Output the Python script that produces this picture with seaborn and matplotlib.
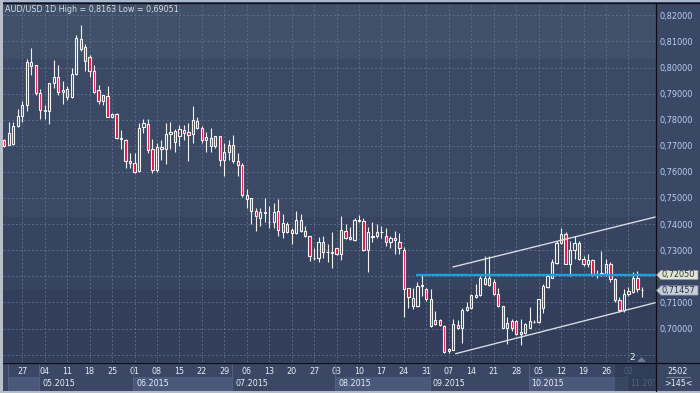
import numpy as np
import pandas as pd
import matplotlib
matplotlib.use("Agg")
import matplotlib.pyplot as plt
import matplotlib.transforms as mtransforms
from matplotlib.patches import Rectangle, Polygon
import seaborn as sns

# ---------------- data (AUD/USD daily) ----------------
opens = [0.7722, 0.7704, 0.7707, 0.7776, 0.7816, 0.7855, 0.8021, 0.8008, 0.7901, 0.7832,
         0.7832, 0.7939, 0.7965, 0.7906, 0.7916, 0.7888, 0.7975, 0.8110, 0.8080, 0.8039,
         0.7985, 0.7914, 0.7873, 0.7891, 0.7811, 0.7822, 0.7727, 0.7724, 0.7643, 0.7635,
         0.7602, 0.7773, 0.7782, 0.7686, 0.7609, 0.7696, 0.7689, 0.7745, 0.7758, 0.7737,
         0.7760, 0.7752, 0.7744, 0.7795, 0.7769, 0.7722, 0.7730, 0.7699, 0.7737, 0.7645,
         0.7676, 0.7704, 0.7643, 0.7627, 0.7512, 0.7499, 0.7450, 0.7425, 0.7442, 0.7407,
         0.7407, 0.7450, 0.7404, 0.7402, 0.7376, 0.7366, 0.7417, 0.7373, 0.7353, 0.7269,
         0.7269, 0.7330, 0.7292, 0.7290, 0.7307, 0.7284, 0.7373, 0.7343, 0.7340, 0.7410,
         0.7410, 0.7299, 0.7350, 0.7356, 0.7368, 0.7353, 0.7330, 0.7345, 0.7333, 0.7302,
         0.7156, 0.7087, 0.7087, 0.7164, 0.7153, 0.7112, 0.7016, 0.7031, 0.7010, 0.6914,
         0.6918, 0.7013, 0.7001, 0.7072, 0.7080, 0.7122, 0.7128, 0.7192, 0.7167, 0.7179,
         0.7131, 0.7085, 0.7003, 0.7029, 0.7027, 0.6978, 0.6984, 0.7003, 0.7024, 0.7024,
         0.7080, 0.7159, 0.7195, 0.7252, 0.7328, 0.7363, 0.7248, 0.7299, 0.7329, 0.7265,
         0.7246, 0.7261, 0.7208, 0.7208, 0.7208, 0.7248, 0.7188, 0.7108, 0.7070, 0.7133,
         0.7141, 0.7192, 0.7149]
highs = [0.7725, 0.7791, 0.7791, 0.7841, 0.7873, 0.8031, 0.8074, 0.8011, 0.7916, 0.7857,
         0.7939, 0.8030, 0.8008, 0.7949, 0.7931, 0.7998, 0.8126, 0.8163, 0.8090, 0.8046,
         0.8011, 0.7934, 0.7896, 0.7931, 0.7824, 0.7824, 0.7761, 0.7727, 0.7673, 0.7671,
         0.7788, 0.7801, 0.7801, 0.7727, 0.7709, 0.7724, 0.7786, 0.7791, 0.7763, 0.7778,
         0.7781, 0.7788, 0.7851, 0.7810, 0.7775, 0.7752, 0.7768, 0.7737, 0.7737, 0.7712,
         0.7724, 0.7740, 0.7673, 0.7635, 0.7533, 0.7501, 0.7460, 0.7463, 0.7499, 0.7468,
         0.7481, 0.7496, 0.7437, 0.7407, 0.7384, 0.7450, 0.7437, 0.7391, 0.7356, 0.7307,
         0.7350, 0.7356, 0.7325, 0.7368, 0.7310, 0.7430, 0.7399, 0.7389, 0.7422, 0.7433,
         0.7422, 0.7389, 0.7409, 0.7399, 0.7391, 0.7386, 0.7356, 0.7373, 0.7366, 0.7312,
         0.7156, 0.7156, 0.7179, 0.7207, 0.7156, 0.7153, 0.7067, 0.7036, 0.7013, 0.6927,
         0.7038, 0.7031, 0.7080, 0.7102, 0.7131, 0.7172, 0.7201, 0.7276, 0.7276, 0.7188,
         0.7156, 0.7087, 0.7044, 0.7035, 0.7031, 0.7035, 0.7022, 0.7082, 0.7031, 0.7112,
         0.7169, 0.7208, 0.7265, 0.7335, 0.7384, 0.7371, 0.7335, 0.7354, 0.7335, 0.7278,
         0.7284, 0.7265, 0.7225, 0.7297, 0.7265, 0.7256, 0.7195, 0.7120, 0.7150, 0.7160,
         0.7215, 0.7222, 0.7160]
lows = [0.7696, 0.7702, 0.7704, 0.7773, 0.7791, 0.7832, 0.7972, 0.7895, 0.7801, 0.7804,
        0.7783, 0.7921, 0.7896, 0.7860, 0.7875, 0.7885, 0.7972, 0.8064, 0.7988, 0.7962,
        0.7903, 0.7860, 0.7857, 0.7809, 0.7806, 0.7727, 0.7687, 0.7616, 0.7616, 0.7594,
        0.7599, 0.7750, 0.7673, 0.7594, 0.7599, 0.7645, 0.7632, 0.7689, 0.7676, 0.7701,
        0.7724, 0.7641, 0.7709, 0.7765, 0.7712, 0.7676, 0.7676, 0.7692, 0.7622, 0.7584,
        0.7645, 0.7635, 0.7586, 0.7505, 0.7461, 0.7399, 0.7373, 0.7391, 0.7407, 0.7386,
        0.7386, 0.7356, 0.7348, 0.7366, 0.7325, 0.7363, 0.7371, 0.7350, 0.7258, 0.7261,
        0.7256, 0.7269, 0.7253, 0.7233, 0.7281, 0.7264, 0.7343, 0.7338, 0.7335, 0.7407,
        0.7297, 0.7215, 0.7333, 0.7348, 0.7345, 0.7317, 0.7310, 0.7284, 0.7284, 0.7044,
        0.7080, 0.7075, 0.7081, 0.7126, 0.7106, 0.7007, 0.7013, 0.7010, 0.6907, 0.6905,
        0.6916, 0.6998, 0.6946, 0.7067, 0.7073, 0.7118, 0.7125, 0.7167, 0.7163, 0.7128,
        0.7082, 0.7001, 0.6939, 0.6990, 0.6975, 0.6936, 0.6980, 0.7001, 0.7021, 0.7021,
        0.7061, 0.7156, 0.7192, 0.7246, 0.7322, 0.7246, 0.7200, 0.7265, 0.7261, 0.7239,
        0.7236, 0.7200, 0.7195, 0.7200, 0.7200, 0.7180, 0.7100, 0.7065, 0.7065, 0.7125,
        0.7135, 0.7140, 0.7120]
closes = [0.7699, 0.7750, 0.7776, 0.7814, 0.7857, 0.8021, 0.8005, 0.7901, 0.7837, 0.7837,
          0.7939, 0.7965, 0.7906, 0.7914, 0.7888, 0.7975, 0.8113, 0.8069, 0.8026, 0.7985,
          0.7908, 0.7873, 0.7893, 0.7811, 0.7822, 0.7730, 0.7731, 0.7643, 0.7635, 0.7599,
          0.7769, 0.7786, 0.7684, 0.7609, 0.7696, 0.7689, 0.7747, 0.7752, 0.7714, 0.7763,
          0.7750, 0.7742, 0.7800, 0.7769, 0.7722, 0.7735, 0.7699, 0.7737, 0.7645, 0.7676,
          0.7704, 0.7643, 0.7627, 0.7510, 0.7497, 0.7450, 0.7430, 0.7445, 0.7445, 0.7409,
          0.7445, 0.7376, 0.7368, 0.7368, 0.7366, 0.7417, 0.7373, 0.7353, 0.7279, 0.7271,
          0.7333, 0.7292, 0.7294, 0.7294, 0.7284, 0.7376, 0.7348, 0.7350, 0.7414, 0.7414,
          0.7299, 0.7371, 0.7353, 0.7371, 0.7371, 0.7333, 0.7345, 0.7338, 0.7307, 0.7151,
          0.7121, 0.7115, 0.7161, 0.7166, 0.7112, 0.7010, 0.7031, 0.7013, 0.6910, 0.6923,
          0.7016, 0.7001, 0.7072, 0.7084, 0.7127, 0.7127, 0.7192, 0.7169, 0.7195, 0.7131,
          0.7085, 0.7003, 0.7022, 0.7003, 0.6978, 0.6987, 0.7016, 0.7029, 0.7026, 0.7112,
          0.7163, 0.7201, 0.7256, 0.7326, 0.7363, 0.7248, 0.7299, 0.7329, 0.7265, 0.7246,
          0.7261, 0.7208, 0.7210, 0.7214, 0.7248, 0.7188, 0.7108, 0.7070, 0.7133, 0.7144,
          0.7192, 0.7150, 0.71457]
dates = pd.bdate_range(end="2015-11-05", periods=len(closes))

price_ticks = [0.69, 0.70, 0.71, 0.72, 0.73, 0.74, 0.75, 0.76, 0.77, 0.78, 0.79, 0.80, 0.81, 0.82]
hidden_price_labels = [0.69, 0.72]

resistance_level = 0.7205
resistance_start = "2015-08-27"
channel_upper_dates = ["2015-09-08", "2015-11-10"]
channel_upper_prices = [0.72356, 0.74272]
channel_lower_dates = ["2015-09-08", "2015-11-10"]
channel_lower_prices = [0.69034, 0.70989]
channel_upper_start_offset = -0.1   # fractions of a candle step
channel_lower_start_offset = 0.5

title_text = "AUD/USD 1D High = 0,8163 Low = 0,69051"
marker_labels = ["0,72050", "0,71457"]
marker_prices = [0.7205, 0.71457]
corner_labels = ["2502", ">145<"]
bar_count_label = "2"

# ---------------- style ----------------
sns.set_theme(style="dark")
plt.rcParams['font.family'] = ['DejaVu Sans']

W, H = 700, 393
PANEL = '#3a4865'
RED = '#e3123d'
fig = plt.figure(figsize=(7, 3.93), dpi=100, facecolor=PANEL)

def fx(px):
    return px / W

def fy(py):
    return 1 - py / H

# axes from x=3..656 px, y=3..362 px
ax = fig.add_axes([fx(3), fy(362), fx(656) - fx(3), fy(3) - fy(362)])
for s in ax.spines.values():
    s.set_visible(False)

X0, DX = 4.3, 4.49          # pixel of first candle, pixels per candle
P0, PY0, PPU = 0.82, 15.3, 2610.0   # price 0.82 at pixel 15.3, pixels per unit
ax.set_xlim((3 - X0) / DX, (656 - X0) / DX)
ax.set_ylim(P0 - (362 - PY0) / PPU, P0 + (PY0 - 3) / PPU)

# background bands (axes coordinates)
bands = [(3, 59, '#415069'), (59, 217, '#3b4964'), (217, 290, '#37445f'), (290, 362, '#333f5a')]
for top, bot, col in bands:
    ax.add_patch(Rectangle((0, (362 - bot) / 359), 1, (bot - top) / 359,
                           transform=ax.transAxes, facecolor=col, edgecolor='none', zorder=0))

df = pd.DataFrame({"date": dates, "open": opens, "high": highs, "low": lows, "close": closes})
df["k"] = np.arange(len(df))
date_to_k = {d: k for d, k in zip(df["date"], df["k"])}

def k_of(datestr):
    d = pd.Timestamp(datestr)
    if d in date_to_k:
        return date_to_k[d]
    # extrapolate beyond the last bar by business days
    return len(df) - 1 + len(pd.bdate_range(df["date"].iloc[-1], d)) - 1

# grid
mondays = df[df["date"].dt.dayofweek == 0]
ax.set_xticks(mondays["k"])
ax.set_xticklabels([d.strftime("%d") for d in mondays["date"]])
ax.set_yticks(price_ticks)
ax.set_yticklabels(["" if p in hidden_price_labels else f"{p:.5f}".replace(".", ",") for p in price_ticks])
ax.grid(True, color='#5b6b8b', linestyle=(0, (2, 2.2)), linewidth=0.7, zorder=1)
ax.set_axisbelow(True)
ax.yaxis.tick_right()
ax.tick_params(axis='y', length=0, pad=2.6, labelsize=5.9, labelcolor='#b9d0f2')
ax.tick_params(axis='x', length=0, pad=3.6, labelsize=5.8, labelcolor='#e8eef7')
xl = ax.get_xticklabels()
xl[-1].set_color('#7f8da5')

# candles
o = df["open"].values; c = df["close"].values
hi = df["high"].values; lo = df["low"].values; k = df["k"].values
body_lo = np.minimum(o, c); body_hi = np.maximum(o, c)
height = np.maximum(body_hi - body_lo, 0.00018)
up = c >= o
ax.vlines(k, lo, body_lo, color='#f2f2f2', linewidth=0.8, zorder=3)
ax.vlines(k, body_lo + height, hi, color='#f2f2f2', linewidth=0.8, zorder=3)
ax.bar(k[up], height[up], bottom=body_lo[up], width=0.5, facecolor='none',
       edgecolor='#f4f4f4', linewidth=0.8, zorder=4)
ax.bar(k[~up], height[~up], bottom=body_lo[~up], width=0.5, facecolor=RED,
       edgecolor='#f4f4f4', linewidth=0.8, zorder=4)

# support/resistance & channel
xmax = ax.get_xlim()[1]
res_df = pd.DataFrame({"k": [k_of(resistance_start), xmax], "p": [resistance_level] * 2})
sns.lineplot(data=res_df, x="k", y="p", ax=ax, color='#1d9fe0', linewidth=1.7, zorder=5)
up_df = pd.DataFrame({"k": [k_of(channel_upper_dates[0]) + channel_upper_start_offset, k_of(channel_upper_dates[1])],
                      "p": channel_upper_prices})
lo_df = pd.DataFrame({"k": [k_of(channel_lower_dates[0]) + channel_lower_start_offset, k_of(channel_lower_dates[1])],
                      "p": channel_lower_prices})
for d in (up_df, lo_df):
    sns.lineplot(data=d, x="k", y="p", ax=ax, color='#dde0e6', linewidth=0.95, zorder=5)
ax.set_xlim((3 - X0) / DX, (656 - X0) / DX)
ax.set_xlabel(""); ax.set_ylabel("")

# ---------------- bottom date strip ----------------
blend = mtransforms.blended_transform_factory(ax.transData, fig.transFigure)
month_starts = df.groupby(df["date"].dt.to_period("M"))["k"].min()
month_list = list(month_starts.items())
for i, (per, k0) in enumerate(month_list):
    if i == 0:
        xs = (8 - X0) / DX
    else:
        xs = k0 - 0.25
    xe = month_list[i + 1][1] - 0.25 if i + 1 < len(month_list) else xmax
    light = (i % 2 == 0)
    ax.add_patch(Rectangle((xs, fy(390)), xe - xs, fy(376.7) - fy(390), transform=blend,
                           facecolor='#4a597b' if light else PANEL, edgecolor='#53627f' if light else 'none',
                           linewidth=0.5, clip_on=False, zorder=1))
    ax.plot([xs, xs], [fy(363), fy(390)], transform=blend, color='#56657f', lw=0.6, clip_on=False, zorder=1)
    if i > 0:
        t = ax.text(xs + 3 / DX, fy(383.2), per.strftime("%m.%Y"), transform=blend, fontsize=5.8,
                    color='#e8eef7' if i < len(month_list) - 1 else '#7f8da5', va='center', ha='left',
                    clip_on=False)
        if i == len(month_list) - 1:
            t.set_clip_box(mtransforms.TransformedBbox(
                mtransforms.Bbox([[0, 0], [fx(655), 1]]), fig.transFigure))
            t.set_clip_on(True)

# darker overlay over the current (incomplete) region of the strip
fig.add_artist(Rectangle((fx(615), fy(391)), fx(656) - fx(615), fy(363) - fy(391), transform=fig.transFigure,
                         facecolor='#243049', alpha=0.45, edgecolor='none', zorder=2))

# ---------------- price markers on the right ----------------
for lab, p, col in zip(marker_labels, marker_prices, ['#e2e4cf', '#c9cdd8']):
    ypx = PY0 + (P0 - p) * PPU
    poly = Polygon([(fx(656.5), fy(ypx)), (fx(661), fy(ypx - 4.6)), (fx(698), fy(ypx - 4.6)),
                    (fx(698), fy(ypx + 4.6)), (fx(661), fy(ypx + 4.6))], closed=True,
                   transform=fig.transFigure, facecolor=col, edgecolor='#8e96a4', linewidth=0.5, zorder=6)
    fig.add_artist(poly)
    fig.text(fx(662), fy(ypx), lab, fontsize=5.9, color='#27364f', va='center', ha='left', zorder=7)

# ---------------- texts & frame ----------------
fig.text(fx(5), fy(10), title_text, fontsize=5.8, color='#d6dce4', va='center', ha='left')
fig.text(fx(632), fy(357.5), bar_count_label, fontsize=6.5, color='#f0f0f0', va='center', ha='center')
fig.add_artist(Polygon([(fx(637), fy(362)), (fx(641.5), fy(357)), (fx(646), fy(362))], closed=True,
                       transform=fig.transFigure, facecolor='#6c7a92', edgecolor='none', zorder=3))
fig.text(fx(678), fy(371.5), corner_labels[0], fontsize=5.8, color='#e8eef7', va='center', ha='center')
fig.text(fx(678), fy(383.2), corner_labels[1], fontsize=5.8, color='#e8eef7', va='center', ha='center')
fig.add_artist(plt.Line2D([fx(666), fx(690)], [fy(377), fy(377)], color='#8a98b0', lw=0.5))

line_kw = dict(transform=fig.transFigure, color='#0c0f16', lw=0.9)
fig.add_artist(plt.Line2D([fx(656.3), fx(656.3)], [fy(3), fy(391)], **line_kw))
fig.add_artist(plt.Line2D([fx(3), fx(700)], [fy(362.6), fy(362.6)], **line_kw))
fig.add_artist(plt.Line2D([fx(3), fx(700)], [fy(2.6), fy(2.6)], **line_kw))
fig.add_artist(Rectangle((0, fy(1.8)), 1, fy(0) - fy(1.8), transform=fig.transFigure,
                         facecolor='#a9b6ca', edgecolor='none'))
fig.add_artist(Rectangle((0, 0), fx(2.6), 1, transform=fig.transFigure, facecolor='#b7bfcb', edgecolor='none'))
fig.add_artist(Rectangle((0, 0), 1, fy(391.2), transform=fig.transFigure, facecolor='#b3bbc7', edgecolor='none'))

fig.savefig("out.png", dpi=100, facecolor=fig.get_facecolor())
